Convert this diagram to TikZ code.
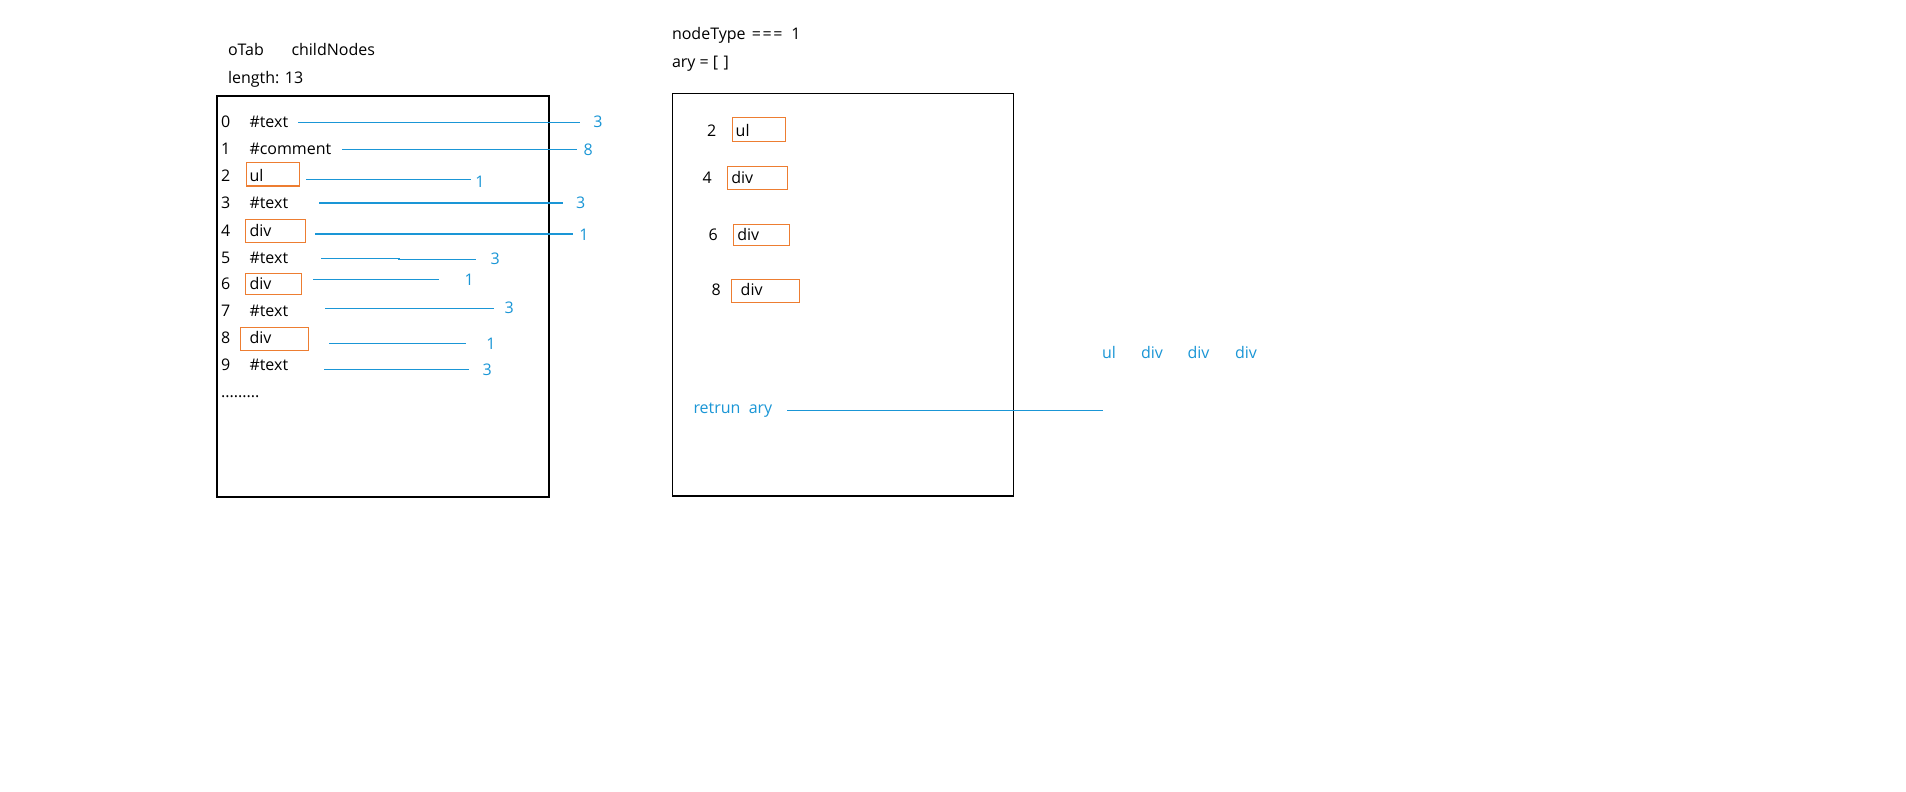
\documentclass[tikz,border=0pt]{standalone}
\usepackage{fontspec}
\setmainfont{Open Sans}
\definecolor{lblue}{HTML}{1A96D6}
\definecolor{lorange}{HTML}{ED7D31}
\begin{document}
\begin{tikzpicture}[x=0.75pt,y=-0.75pt,
  every node/.style={inner sep=0pt,outer sep=0pt,font=\fontsize{12}{14}\selectfont},
  txt/.style={anchor=base west},
  btxt/.style={anchor=base west,text=lblue},
  num/.style={anchor=center,text=lblue},
  frame/.style={draw=black,line width=0.9pt},
  obox/.style={draw=lorange,line width=0.8pt},
  bline/.style={draw=lblue,line width=0.9pt}]
\useasboundingbox[fill=white] (0,0) rectangle (1906,792);

% ---------- left panel ----------
\node[txt] (otab) at (228,55.7) {oTab};
\node[txt] (cn) at (291.5,55.7) {childNodes};
\node[txt] (len) at (228,83.3) {length: 13};
\draw[frame] (217,96) rectangle (549,497);

\foreach \i/\y in {0/127.3,1/154.7,2/181.3,3/208.3,4/236.3,5/263,6/289.7,7/316.3,8/343.3,9/370.7}{
  \node[txt] (idx\i) at (221,\y) {\i};
}
\node[txt] (l0) at (249.5,127.3) {\#text};
\node[txt] (l1) at (249.5,154.7) {\#comment};
\node[txt] (l2) at (249.5,181.3) {ul};
\node[txt] (l3) at (249.5,208.3) {\#text};
\node[txt] (l4) at (249.5,236.3) {div};
\node[txt] (l5) at (249.5,263) {\#text};
\node[txt] (l6) at (249.5,289.7) {div};
\node[txt] (l7) at (249.5,316.3) {\#text};
\node[txt] (l8) at (249.5,343.3) {div};
\node[txt] (l9) at (249.5,370.7) {\#text};
\node[txt] (dots) at (221,397.5) {.........};

\draw[obox] (246.3,162.7) rectangle (299.3,186);
\draw[obox] (245.3,219.3) rectangle (305.3,242.3);
\draw[obox] (245.3,273.3) rectangle (301.3,294.3);
\draw[obox] (240.3,327.3) rectangle (308.3,350.3);

% blue counts
\node[num] (n0) at (598,122) {3};
\node[num] (n1) at (588.3,149.3) {8};
\node[num] (n2) at (480,182) {1};
\node[num] (n3) at (580.7,202.5) {3};
\node[num] (n4) at (584,234.3) {1};
\node[num] (n5) at (495.3,258.5) {3};
\node[num] (n6) at (469.3,279.5) {1};
\node[num] (n7) at (509.3,307.3) {3};
\node[num] (n8) at (491,344) {1};
\node[num] (n9) at (487.3,370) {3};

\draw[bline] (298.3,122.3) -- (580,122.3);
\draw[bline] (342.3,149.7) -- (576.7,149.7);
\draw[bline] (306,179.3) -- (470.7,179.3);
\draw[bline] (319,203) -- (562.7,203);
\draw[bline] (315,234) -- (572.7,234);
\draw[bline] (321,258.3) -- (399,258.3) -- (399,259.3) -- (476,259.3);
\draw[bline] (313.3,279.3) -- (439,279.3);
\draw[bline] (325,308.3) -- (494,308.3);
\draw[bline] (329,343.3) -- (465.7,343.3);
\draw[bline] (324,369.3) -- (469,369.3);

% ---------- right panel ----------
\node[txt] (nt) at (672,40) {nodeType\hspace{1.5pt} =\kern1.2pt=\kern1.2pt=\hspace{3.5pt} 1};
\node[txt] (ary) at (672,67.7) {ary = [\kern1pt\ ]};
\draw[frame] (672.3,93.7) rectangle (1013.3,496);

\node[txt] (r2) at (707,136.7) {2};
\node[txt] (r4) at (702.7,183) {4};
\node[txt] (r6) at (708.7,240.3) {6};
\node[txt] (r8) at (711.7,295.6) {8};

\node[txt] (rul) at (735.7,136.7) {ul};
\node[txt] (rd4) at (731.3,183) {div};
\node[txt] (rd6) at (737.3,240.7) {div};
\node[txt] (rd8) at (740.7,295.7) {div};

\draw[obox] (732.3,117.3) rectangle (785.3,141.3);
\draw[obox] (727.3,166.3) rectangle (787.3,189.3);
\draw[obox] (733.3,224.3) rectangle (789.3,245.3);
\draw[obox] (731.3,279.3) rectangle (799.3,302.3);

\node[btxt] (ret) at (693.5,413.3) {retrun\ \ ary};
\coordinate (retend) at (1103.3,410.7);
\draw[bline] (787,410.7) -- (retend);

\node[btxt] (o1) at (1102,358.7) {ul};
\node[btxt] (o2) at (1141,358.7) {div};
\node[btxt] (o3) at (1187.5,358.7) {div};
\node[btxt] (o4) at (1235,358.7) {div};
\end{tikzpicture}
\end{document}
